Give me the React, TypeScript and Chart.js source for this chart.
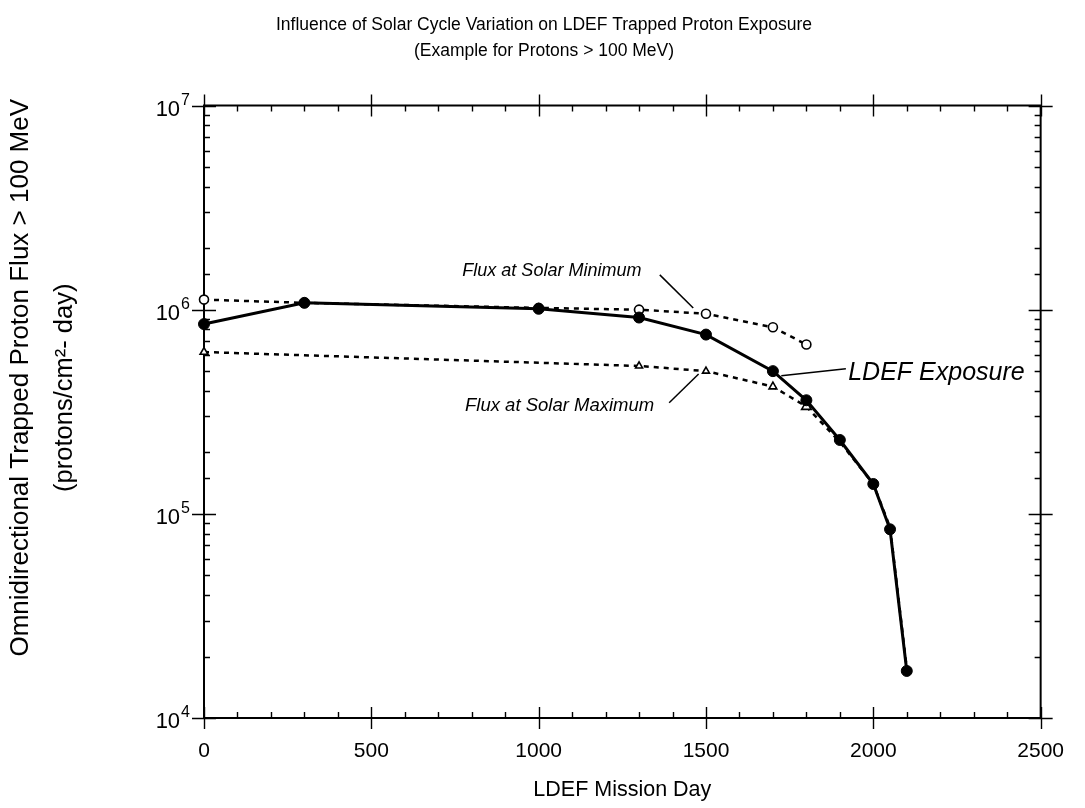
import React, { useEffect, useRef } from 'react';
import { Chart, registerables } from 'chart.js';

Chart.register(...registerables);

const FONT = "'Liberation Sans', Arial, Helvetica, sans-serif";

const chartTitle = [
  'Influence of Solar Cycle Variation on LDEF Trapped Proton Exposure',
  '(Example for Protons > 100 MeV)',
];
const xAxisTitle = 'LDEF Mission Day';
const yAxisTitle = ['Omnidirectional Trapped Proton Flux > 100 MeV', '(protons/cm²- day)'];

// LDEF exposure (solid line, filled circles)
const ldefDays = [0, 300, 1000, 1300, 1500, 1700, 1800, 1900, 2000, 2050, 2100];
const ldefFlux = [8.5e5, 1.08e6, 1.01e6, 9.15e5, 7.55e5, 5.0e5, 3.6e5, 2.3e5, 1.4e5, 8.4e4, 1.7e4];

// Flux at solar minimum (dotted, open circles)
const minDays = [0, 300, 1000, 1300, 1500, 1700, 1800];
const minFlux = [1.12e6, 1.08e6, 1.02e6, 1.0e6, 9.55e5, 8.2e5, 6.75e5];

// Flux at solar maximum (dotted, open triangles)
const maxDays = [0, 1300, 1500, 1700, 1800, 1900, 2000, 2050, 2100];
const maxFlux = [6.2e5, 5.3e5, 5.0e5, 4.2e5, 3.35e5, 2.25e5, 1.4e5, 8.6e4, 1.75e4];

// axis ranges and tick labels
const xMin = 0;
const xMax = 2500;
const xMinorStep = 100;
const xMajorStep = 500;
const yMin = 1e4;
const yMax = 1e7;
const yDecades = [1e4, 1e5, 1e6, 1e7];
const yTickBase = '10';
const yTickExponents = ['4', '5', '6', '7'];

// annotation anchors, in data units (day, flux)
const annotations = [
  { text: 'Flux at Solar Minimum', at: [772, 1.55e6], size: 18, line: [[1362, 1.48e6], [1462, 1.02e6]] },
  { text: 'Flux at Solar Maximum', at: [780, 3.38e5], size: 18.5, line: [[1390, 3.5e5], [1478, 4.84e5]] },
  { text: 'LDEF Exposure', at: [1925, 4.92e5], size: 25, line: [[1725, 4.74e5], [1918, 5.13e5]] },
];

const zip = (xs: number[], ys: number[]) => xs.map((x, i) => ({ x, y: ys[i] }));

const isDecade = (v: number) => {
  const e = Math.log10(v);
  return Math.abs(e - Math.round(e)) < 1e-9;
};

const framePlugin = {
  id: 'frameTicks',
  beforeDatasetsDraw(chart: any) {
    const { ctx, chartArea, scales } = chart;
    const { left, right, top, bottom } = chartArea;
    ctx.save();
    ctx.strokeStyle = '#000';
    ctx.lineWidth = 2;
    ctx.strokeRect(left, top, right - left, bottom - top);
    ctx.lineWidth = 1.4;
    ctx.beginPath();
    scales.x.ticks.forEach((t: any) => {
      const px = Math.round(scales.x.getPixelForValue(t.value)) + 0.5;
      if (t.value % xMajorStep === 0) {
        ctx.moveTo(px, bottom - 11);
        ctx.lineTo(px, bottom + 11);
        ctx.moveTo(px, top - 11);
        ctx.lineTo(px, top + 11);
      } else {
        ctx.moveTo(px, bottom - 6);
        ctx.lineTo(px, bottom);
        ctx.moveTo(px, top);
        ctx.lineTo(px, top + 6);
      }
    });
    scales.y.ticks.forEach((t: any) => {
      const py = Math.round(scales.y.getPixelForValue(t.value)) + 0.5;
      if (isDecade(t.value)) {
        ctx.moveTo(left - 12, py);
        ctx.lineTo(left + 12, py);
        ctx.moveTo(right - 12, py);
        ctx.lineTo(right + 12, py);
      } else {
        ctx.moveTo(left, py);
        ctx.lineTo(left + 6, py);
        ctx.moveTo(right - 6, py);
        ctx.lineTo(right, py);
      }
    });
    ctx.stroke();

    // y tick labels: 10 with raised exponent
    ctx.fillStyle = '#000';
    ctx.textBaseline = 'alphabetic';
    ctx.textAlign = 'left';
    yDecades.forEach((v, i) => {
      const py = scales.y.getPixelForValue(v);
      ctx.font = `16px ${FONT}`;
      const expW = ctx.measureText(yTickExponents[i]).width;
      ctx.font = `22px ${FONT}`;
      const baseW = ctx.measureText(yTickBase).width;
      const xr = left - 14;
      ctx.fillText(yTickBase, xr - expW - 1 - baseW, py + 10);
      ctx.font = `16px ${FONT}`;
      ctx.fillText(yTickExponents[i], xr - expW, py - 1);
    });

    // y axis title (two rotated lines)
    const cy = (top + bottom) / 2;
    ctx.save();
    ctx.textAlign = 'center';
    ctx.textBaseline = 'middle';
    ctx.translate(21, cy);
    ctx.rotate(-Math.PI / 2);
    ctx.font = `26px ${FONT}`;
    ctx.fillText(yAxisTitle[0], 34, 0);
    ctx.font = `25.5px ${FONT}`;
    ctx.fillText(yAxisTitle[1], 24, 44);
    ctx.restore();

    ctx.restore();
  },
  afterDatasetsDraw(chart: any) {
    const { ctx, scales } = chart;
    ctx.save();
    ctx.fillStyle = '#000';
    ctx.strokeStyle = '#000';
    ctx.lineWidth = 1.5;
    ctx.textBaseline = 'middle';
    ctx.textAlign = 'left';
    annotations.forEach((a) => {
      ctx.font = `italic ${a.size}px ${FONT}`;
      ctx.fillText(a.text, scales.x.getPixelForValue(a.at[0]), scales.y.getPixelForValue(a.at[1]));
      ctx.beginPath();
      ctx.moveTo(scales.x.getPixelForValue(a.line[0][0]), scales.y.getPixelForValue(a.line[0][1]));
      ctx.lineTo(scales.x.getPixelForValue(a.line[1][0]), scales.y.getPixelForValue(a.line[1][1]));
      ctx.stroke();
    });
    ctx.restore();
  },
};

export default function App() {
  const canvasRef = useRef<HTMLCanvasElement | null>(null);

  useEffect(() => {
    const canvas = canvasRef.current;
    if (!canvas) return;
    Chart.defaults.font.family = FONT;
    Chart.defaults.color = '#000';

    const chart = new Chart(canvas, {
      type: 'line',
      data: {
        datasets: [
          {
            label: 'LDEF Exposure',
            data: zip(ldefDays, ldefFlux),
            borderColor: '#000',
            backgroundColor: '#000',
            borderWidth: 3,
            pointRadius: 5.5,
            pointBackgroundColor: '#000',
            pointBorderColor: '#000',
            pointBorderWidth: 1,
            tension: 0,
            clip: false,
          },
          {
            label: 'Flux at Solar Minimum',
            data: zip(minDays, minFlux),
            borderColor: '#000',
            borderWidth: 2.5,
            borderDash: [5, 5],
            pointStyle: 'circle',
            pointRadius: 4.5,
            pointBackgroundColor: '#fff',
            pointBorderColor: '#000',
            pointBorderWidth: 1.6,
            tension: 0,
            clip: false,
          },
          {
            label: 'Flux at Solar Maximum',
            data: zip(maxDays, maxFlux),
            borderColor: '#000',
            borderWidth: 2.5,
            borderDash: [5, 5],
            pointStyle: 'triangle',
            pointRadius: [4.5, 4, 4, 4.5, 5.5, 0, 0, 0, 0],
            pointBackgroundColor: '#fff',
            pointBorderColor: '#000',
            pointBorderWidth: 1.6,
            tension: 0,
            clip: false,
          },
        ],
      },
      options: {
        animation: false,
        responsive: false,
        devicePixelRatio: 1,
        layout: { padding: { left: 39, right: 36, top: 0, bottom: 0 } },
        plugins: {
          legend: { display: false },
          tooltip: { enabled: false },
          title: {
            display: true,
            text: chartTitle,
            color: '#000',
            font: { size: 17.5, weight: 'normal', family: FONT, lineHeight: 1.5 },
            padding: { top: 12, bottom: 41 },
          },
        },
        scales: {
          x: {
            type: 'linear',
            position: 'bottom',
            min: xMin,
            max: xMax,
            grid: { display: false, drawTicks: false },
            border: { display: false },
            ticks: {
              stepSize: xMinorStep,
              autoSkip: false,
              maxRotation: 0,
              padding: 21,
              color: '#000',
              font: { size: 21, family: FONT },
              callback: (v: any) => (Number(v) % xMajorStep === 0 ? String(v) : ''),
            },
            title: {
              display: true,
              text: xAxisTitle,
              color: '#000',
              font: { size: 21.5, family: FONT, lineHeight: 1.2 },
              padding: { top: 0, bottom: 5 },
            },
            afterFit: (scale: any) => {
              scale.height = 90;
            },
          },
          y: {
            type: 'logarithmic',
            position: 'left',
            min: yMin,
            max: yMax,
            grid: { display: false, drawTicks: false },
            border: { display: false },
            ticks: { display: false, autoSkip: false },
            title: { display: false },
            afterFit: (scale: any) => {
              scale.width = 165;
            },
          },
        },
      },
      plugins: [framePlugin],
    });

    return () => chart.destroy();
  }, []);

  return (
    <div style={{ position: 'fixed', left: 0, top: 0, width: 1085, height: 808, background: '#fff' }}>
      <canvas ref={canvasRef} width={1085} height={808} style={{ display: 'block' }} />
    </div>
  );
}
